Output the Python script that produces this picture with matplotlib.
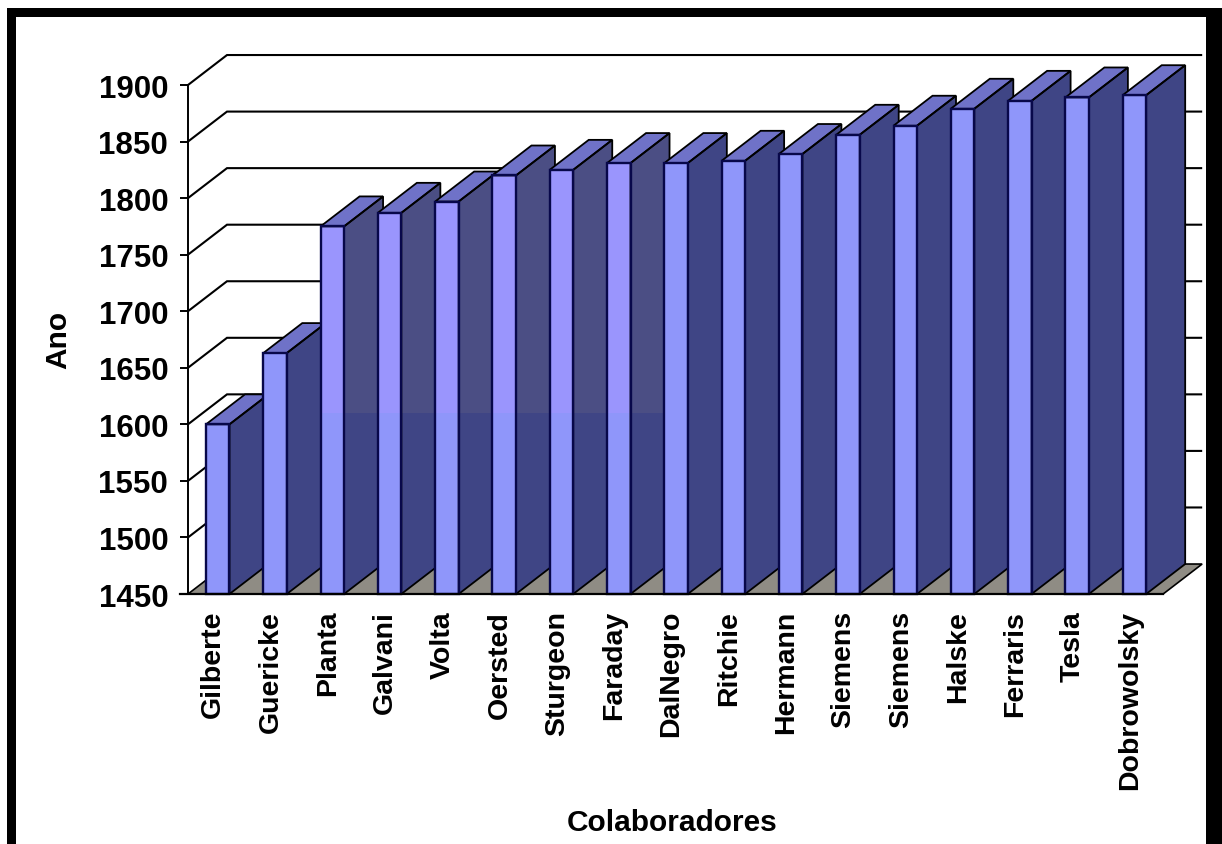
import numpy as np
import matplotlib
matplotlib.use('Agg')
import matplotlib.pyplot as plt
from matplotlib.patches import Rectangle

plt.rcParams['font.family'] = ['Liberation Sans', 'DejaVu Sans']
plt.rcParams['font.weight'] = 'bold'

names = ['Gilberte', 'Guericke', 'Planta', 'Galvani', 'Volta', 'Oersted', 'Sturgeon',
         'Faraday', 'DalNegro', 'Ritchie', 'Hermann', 'Siemens', 'Siemens', 'Halske',
         'Ferraris', 'Tesla', 'Dobrowolsky']
years = [1600, 1663, 1775, 1787, 1797, 1820, 1825, 1831, 1831, 1833, 1839, 1856,
         1864, 1879, 1886, 1889, 1891]
year_ticks = list(range(1450, 1901, 50))

W, H = 1222, 845
ax_left, ax_right, ax_top, ax_bottom = 188, 1162, 86, 595

# oblique depth of the 3d box, in category units and years
depth_x = 39 / 57.3
depth_y = 26.5
bar_off = 0.314
bar_w = 0.41
tint_from = 1610

front = '#8f96fa'
front_tint = '#9a95fd'
side = '#3f4585'
side_tint = '#4b4e84'
top = '#6f72c8'
floor = '#8f8c84'
edge = '#08084a'

fig = plt.figure(figsize=(W / 100, H / 100), dpi=100, facecolor='white')
ax = fig.add_axes([ax_left / W, 1 - ax_bottom / H, (ax_right - ax_left) / W, (ax_bottom - ax_top) / H])
ax.set_xlim(0, len(names))
ax.set_ylim(year_ticks[0], year_ticks[-1])
ax.patch.set_visible(False)
for s in ['top', 'right']:
    ax.spines[s].set_visible(False)
ax.spines['left'].set_linewidth(1.4)
ax.spines['bottom'].set_visible(False)

n = len(names)
y0 = year_ticks[0]

# floor
ax.fill([0, n + 0.02, n + 0.02 + depth_x, depth_x], [y0, y0, y0 + depth_y, y0 + depth_y],
        facecolor=floor, edgecolor='black', lw=1.2, clip_on=False, zorder=1)

# gridlines: diagonal on the left wall, then along the back wall
back_end = n + 38 / 57.3 + 0.02
for t in year_ticks[1:]:
    ax.plot([0, depth_x, back_end], [t, t + depth_y, t + depth_y], color='black', lw=1.5,
            clip_on=False, zorder=1, solid_joinstyle='miter')

clip_rect = Rectangle((0, tint_from), n + 2, 600, transform=ax.transData)

# bars go left to right, each one hides the back of the previous side face
for i, v in enumerate(years):
    x0 = i + bar_off
    x1 = x0 + bar_w
    z = 2 + i
    side_x = [x1, x1 + depth_x, x1 + depth_x, x1]
    side_y = [y0, y0 + depth_y, v + depth_y, v]
    top_x = [x0, x0 + depth_x, x1 + depth_x, x1]
    top_y = [v, v + depth_y, v + depth_y, v]

    ax.fill(side_x, side_y, facecolor=side, edgecolor='none', clip_on=False, zorder=z)
    ax.fill(top_x, top_y, facecolor=top, edgecolor='none', clip_on=False, zorder=z)
    ax.fill([x0, x1, x1, x0], [y0, y0, v, v], facecolor=front, edgecolor='none', clip_on=False, zorder=z)
    if 2 <= i <= 7:
        p, = ax.fill(side_x, side_y, facecolor=side_tint, edgecolor='none', zorder=z)
        p.set_clip_path(clip_rect)
        p, = ax.fill([x0, x1, x1, x0], [y0, y0, v, v], facecolor=front_tint, edgecolor='none', zorder=z)
        p.set_clip_path(clip_rect)
    ax.fill(side_x, side_y, facecolor='none', edgecolor='black', lw=1.3, clip_on=False, zorder=z)
    ax.fill(top_x, top_y, facecolor='none', edgecolor='black', lw=1.3, clip_on=False, zorder=z)
    ax.fill([x0, x1, x1, x0], [y0, y0, v, v], facecolor='none', edgecolor=edge, lw=1.7, clip_on=False, zorder=z)

# front baseline starts left of the wall, like the ticks
ax.plot([-8 / 57.3, n + 0.02], [y0, y0], color='black', lw=1.6, clip_on=False, zorder=n + 5)

ax.set_yticks(year_ticks)
ax.tick_params(axis='y', length=5.8, width=1.4, pad=8.5, labelsize=22.5)
ax.set_xticks(np.arange(n) + 0.44)
ax.set_xticklabels(names, rotation=90, fontsize=20.5, va='top', ha='center')
ax.tick_params(axis='x', length=0, pad=11.5)

fig.text(672 / W, 1 - 823 / H, 'Colaboradores', fontsize=21.5, ha='center', va='center')
fig.text(58 / W, 1 - 340 / H, 'Ano', fontsize=21.5, rotation=90, ha='center', va='center')

# thick black frame, open at the bottom
for x, y, w, h in [(7, 9, 1215, 9), (7, 9, 9, 836), (1206, 9, 16, 836)]:
    fig.add_artist(Rectangle((x / W, 1 - (y + h) / H), w / W, h / H, transform=fig.transFigure,
                             facecolor='black', edgecolor='none'))

fig.savefig('out.png', dpi=100)
